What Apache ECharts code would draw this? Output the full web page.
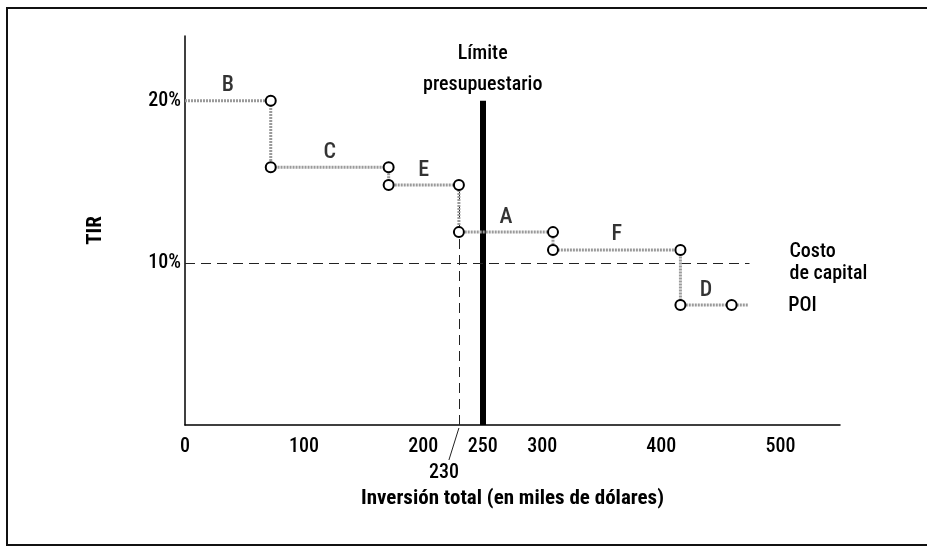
<!DOCTYPE html>
<html>
<head>
<meta charset="utf-8">
<script src="https://cdn.jsdelivr.net/npm/echarts@6/dist/echarts.min.js"></script>
<style>
  html, body { margin: 0; padding: 0; background: #fff; }
  #chart { width: 927px; height: 548px; }
</style>
</head>
<body>
<div id="chart"></div>
<script>
// Projects ordered by TIR, with the cumulative investment where each one ends
const projects = ['B', 'C', 'E', 'A', 'F', 'D'];
const cumulativeInvestment = [72, 171, 230, 309, 416, 459];
const tirValues = [20, 15.9, 14.8, 11.9, 10.8, 7.4];
const curveTailEnd = 473;

// Reference levels
const budgetLimit = 250;
const budgetLineTop = 20;
const capitalCost = 10;
const capitalCostLineEnd = 474;
const cutoffInvestment = 230;

// Axis ticks
const xTicks = [0, 100, 200, 230, 250, 300, 400, 500];
const yTicks = [10, 20];

const FONT = '"Roboto Condensed", "Open Sans", sans-serif';
const INK = '#000';

function txt(size, extra) {
  return Object.assign({ fontFamily: FONT, fontSize: size, fontWeight: 500, color: INK }, extra || {});
}

// Step curve: horizontal run for each project, vertical drop to the next
const stepData = [{ value: [0, tirValues[0]], symbol: 'none' }];
for (let i = 0; i < projects.length; i++) {
  stepData.push({ value: [cumulativeInvestment[i], tirValues[i]] });
  if (i + 1 < projects.length) {
    stepData.push({ value: [cumulativeInvestment[i], tirValues[i + 1]] });
  }
}
stepData.push({ value: [curveTailEnd, tirValues[tirValues.length - 1]], symbol: 'none' });

// Project letters centred over each horizontal run
const letterData = projects.map((p, i) => {
  const start = i === 0 ? 0 : cumulativeInvestment[i - 1];
  return { name: p, value: [(start + cumulativeInvestment[i]) / 2, tirValues[i]] };
});

const chart = echarts.init(document.getElementById('chart'), null, { renderer: 'canvas' });

const option = {
  backgroundColor: '#fff',
  animation: false,
  textStyle: { fontFamily: FONT },
  grid: { left: 185, right: 87, top: 36, bottom: 123, outerBoundsMode: 'none' },
  xAxis: {
    type: 'value',
    min: 0,
    max: 550,
    name: 'Inversión total (en miles de dólares)',
    nameLocation: 'middle',
    nameGap: 59,
    nameTextStyle: txt(21, { fontWeight: 'bold' }),
    axisLine: { show: true, onZero: false, lineStyle: { color: INK, width: 1.5 } },
    axisTick: { show: false },
    splitLine: { show: false },
    axisLabel: Object.assign(txt(20), {
      customValues: xTicks,
      margin: 12,
      formatter: v => v === cutoffInvestment ? '{low|' + v + '}' : String(v),
      rich: {
        low: txt(20, { padding: [26, 30, 0, 0] })
      }
    })
  },
  yAxis: {
    type: 'value',
    min: 0,
    max: 24,
    name: 'TIR',
    nameLocation: 'middle',
    nameGap: 79,
    nameRotate: 90,
    nameTextStyle: txt(21, { fontWeight: 'bold' }),
    axisLine: { show: true, onZero: false, lineStyle: { color: INK, width: 1.5 } },
    axisTick: { show: false },
    splitLine: { show: false },
    axisLabel: Object.assign(txt(20), {
      customValues: yTicks,
      margin: 4,
      formatter: '{value}%'
    })
  },
  series: [
    {
      // budget limit, cost of capital and cutoff guides
      type: 'line',
      data: [],
      silent: true,
      markLine: {
        symbol: ['none', 'none'],
        silent: true,
        animation: false,
        data: [
          [
            { coord: [budgetLimit, 0], lineStyle: { color: INK, width: 6, type: 'solid' },
              label: Object.assign(txt(20), { show: true, position: 'end', distance: 0,
                       formatter: 'Límite\npresupuestario', lineHeight: 31 }) },
            { coord: [budgetLimit, budgetLineTop] }
          ],
          [
            { coord: [0, capitalCost], lineStyle: { color: '#222', width: 1, type: [10, 6] },
              label: Object.assign(txt(20), { show: true, position: 'end', distance: 40,
                       formatter: 'Costo\nde capital', lineHeight: 22, align: 'left' }) },
            { coord: [capitalCostLineEnd, capitalCost] }
          ],
          [
            { coord: [cutoffInvestment, 0], lineStyle: { color: '#222', width: 1, type: [10, 6] } },
            { coord: [cutoffInvestment, tirValues[2]] }
          ]
        ],
        label: { show: false }
      }
    },
    {
      type: 'line',
      name: 'POI',
      data: stepData,
      symbol: 'emptyCircle',
      symbolSize: 10,
      showSymbol: true,
      z: 5,
      lineStyle: { color: '#9a9a9a', width: 3, type: [2, 1] },
      itemStyle: { color: INK, borderColor: INK, borderWidth: 3 },
      endLabel: Object.assign(txt(20), { show: true, formatter: 'POI', distance: 40, offset: [0, 1] })
    },
    {
      type: 'scatter',
      data: letterData,
      symbolSize: 0,
      silent: true,
      label: Object.assign(txt(22), {
        show: true,
        position: 'top',
        distance: 4,
        formatter: p => p.name
      })
    }
  ],
  graphic: []
};

chart.setOption(option);

// Frame around the figure and the leader from the 230 tick to its label
const base = chart.convertToPixel({ gridIndex: 0 }, [cutoffInvestment, 0]);
chart.setOption({
  graphic: [
    {
      type: 'rect',
      shape: { x: 7, y: 8, width: 940, height: 537 },
      style: { fill: 'none', stroke: '#111', lineWidth: 2 },
      silent: true
    },
    {
      type: 'line',
      shape: { x1: base[0], y1: base[1] + 3, x2: base[0] - 10, y2: base[1] + 35 },
      style: { stroke: '#222', lineWidth: 1 },
      silent: true
    }
  ]
});
</script>
</body>
</html>
